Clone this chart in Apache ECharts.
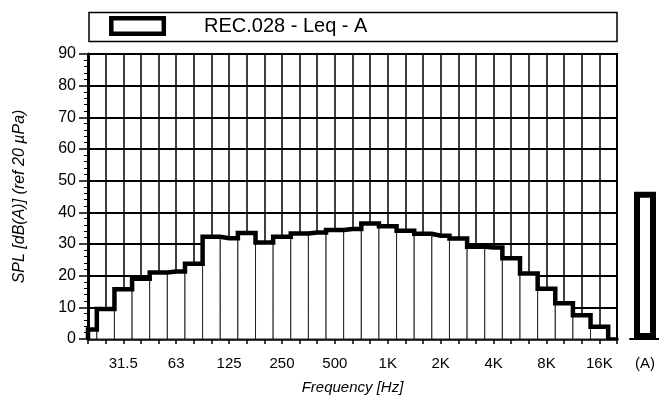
<!DOCTYPE html>
<html>
<head>
<meta charset="utf-8">
<script src="https://cdn.jsdelivr.net/npm/echarts@6/dist/echarts.min.js"></script>
<style>
html,body{margin:0;padding:0;background:#fff;}
#chart{width:659px;height:396px;}
</style>
</head>
<body>
<div id="chart"></div>
<script>
// 1/3-octave band centre frequencies (index = position on the axis)
const bandLabels = ['20','25','31.5','40','50','63','80','100','125','160','200','250','315','400','500','630','800','1K','1.25K','1.6K','2K','2.5K','3.15K','4K','5K','6.3K','8K','10K','12.5K','16K','20K'];
// labelled ticks
const tickLabels = ['31.5','63','125','250','500','1K','2K','4K','8K','16K'];
// Leq levels, dB(A), bands 20 Hz .. 16 kHz
const levels = [3.0, 9.5, 15.7, 19.0, 21.0, 21.3, 23.8, 32.3, 31.8, 33.5, 30.5, 32.3, 33.3, 33.6, 34.4, 34.7, 36.5, 35.6, 34.2, 33.2, 32.6, 31.7, 29.1, 28.9, 25.5, 20.7, 15.9, 11.3, 7.5, 3.9];
// overall A-weighted level
const totalA = 46.5;
const yTicks = [0, 10, 20, 30, 40, 50, 60, 70, 80, 90];

const FONT = 'Liberation Sans, Arial, Helvetica, sans-serif';

const barData = levels.map((v, i) => [i, v]);
// outline (step) points
const outline = [[0, 0]].concat(levels.map((v, i) => [i, v]));
outline.push([levels.length - 0.5, levels[levels.length - 1]]);
outline.push([levels.length - 0.5, 0]);

const chart = echarts.init(document.getElementById('chart'), null, {renderer: 'canvas'});

chart.setOption({
  animation: false,
  backgroundColor: '#fff',
  grid: [
    {left: 88, right: 42, top: 54, bottom: 57, containLabel: false, outerBoundsMode: 'none', show: true, borderColor: '#000', borderWidth: 2, backgroundColor: 'transparent'},
    {left: 630, width: 30, top: 54, bottom: 57, containLabel: false, outerBoundsMode: 'none'}
  ],
  xAxis: [
    {
      type: 'value', gridIndex: 0, min: 0, max: bandLabels.length - 1, interval: 1,
      axisLine: {show: true, lineStyle: {color: '#000', width: 3.5}},
      axisTick: {show: true, inside: false, length: 5, lineStyle: {color: '#000', width: 1.5}},
      axisLabel: {
        margin: 17, color: '#000', fontFamily: FONT, fontSize: 15,
        formatter: function (val) {
          const l = bandLabels[Math.round(val)];
          return tickLabels.indexOf(l) >= 0 ? l : '';
        }
      },
      splitLine: {show: true, lineStyle: {color: '#000', width: 1.5}},
      name: 'Frequency [Hz]', nameLocation: 'middle', nameGap: 41,
      nameTextStyle: {color: '#000', fontFamily: FONT, fontSize: 15, fontStyle: 'italic'}
    },
    {
      type: 'category', gridIndex: 1, data: ['(A)'],
      axisLine: {show: true, lineStyle: {color: '#000', width: 2}},
      axisTick: {show: false},
      axisLabel: {margin: 17, color: '#000', fontFamily: FONT, fontSize: 15},
      splitLine: {show: false}
    }
  ],
  yAxis: [
    {
      type: 'value', gridIndex: 0, min: yTicks[0], max: yTicks[yTicks.length - 1], interval: 10,
      axisLine: {show: true, lineStyle: {color: '#000', width: 3}},
      axisTick: {show: true, inside: false, length: 9, lineStyle: {color: '#000', width: 1.5}},
      minorTick: {show: true, splitNumber: 5, length: 4, lineStyle: {color: '#000', width: 1}},
      axisLabel: {margin: 12, color: '#000', fontFamily: FONT, fontSize: 16},
      splitLine: {show: true, lineStyle: {color: '#000', width: 2}},
      name: 'SPL [dB(A)] (ref 20 \u00b5Pa)', nameLocation: 'middle', nameGap: 60,
      nameTextStyle: {color: '#000', fontFamily: FONT, fontSize: 16, fontStyle: 'italic'}
    },
    {
      type: 'value', gridIndex: 1, min: 0, max: 90, show: false
    }
  ],
  series: [
    {
      type: 'custom', xAxisIndex: 0, yAxisIndex: 0, z: 2,
      data: barData,
      renderItem: function (params, api) {
        const i = api.value(0), v = api.value(1);
        const p1 = api.coord([i - 0.5, v]);
        const p2 = api.coord([i + 0.5, 0]);
        const rect = echarts.graphic.clipRectByRect(
          {x: p1[0], y: p1[1], width: p2[0] - p1[0], height: p2[1] - p1[1]},
          {x: params.coordSys.x, y: params.coordSys.y, width: params.coordSys.width, height: params.coordSys.height}
        );
        if (!rect) return null;
        return {type: 'rect', shape: rect, style: {fill: '#fff', stroke: '#222', lineWidth: 1}};
      }
    },
    {
      type: 'line', xAxisIndex: 0, yAxisIndex: 0, z: 3,
      data: outline, step: 'middle', symbol: 'none',
      lineStyle: {color: '#000', width: 4.5, join: 'miter'}
    },
    {
      type: 'bar', xAxisIndex: 1, yAxisIndex: 1, z: 3,
      data: [totalA], barWidth: 22,
      itemStyle: {color: '#fff', borderColor: '#000', borderWidth: 6}
    }
  ],
  graphic: [
    {type: 'rect', shape: {x: 89, y: 12.5, width: 528, height: 29}, style: {fill: '#fff', stroke: '#000', lineWidth: 1.5}, z: 10},
    {type: 'rect', shape: {x: 111.3, y: 18.3, width: 52.5, height: 15.5}, style: {fill: '#fff', stroke: '#000', lineWidth: 4.5}, z: 11},
    {type: 'text', left: 204, top: 16, style: {text: 'REC.028 - Leq - A', fill: '#000', font: '20px ' + FONT}, z: 11}
  ]
});
</script>
</body>
</html>
